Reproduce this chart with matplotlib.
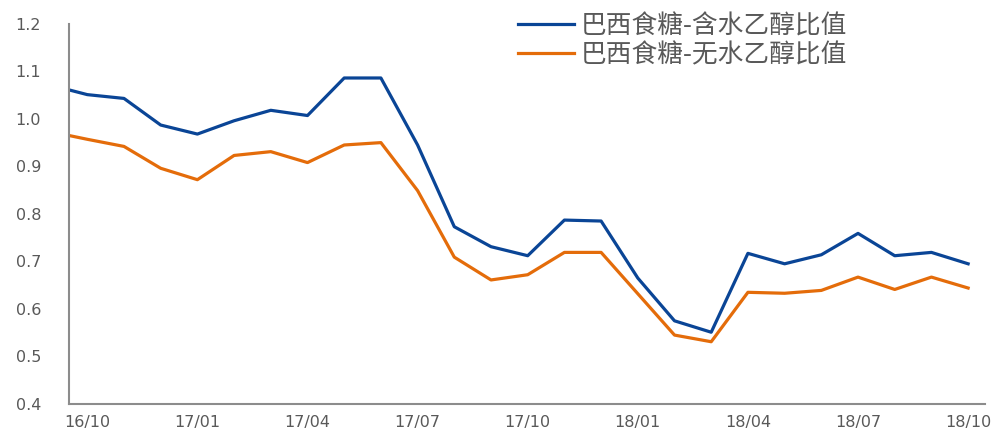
import numpy as np
import matplotlib
matplotlib.use('Agg')
import matplotlib.pyplot as plt

plt.rcParams['font.family'] = ['Noto Sans CJK SC', 'DejaVu Sans']

# month index, 0 = 16/10 (first point sits half a month earlier)
months = [-0.5, 0, 1, 2, 3, 4, 5, 6, 7, 8, 9, 10, 11, 12, 13, 14, 15, 16,
          17, 18, 19, 20, 21, 22, 23, 24]
hydrous = [1.061, 1.051, 1.043, 0.987, 0.968, 0.996, 1.018, 1.007, 1.086,
           1.086, 0.945, 0.773, 0.731, 0.712, 0.787, 0.785, 0.665, 0.575,
           0.551, 0.717, 0.695, 0.714, 0.759, 0.712, 0.719, 0.695]
anhydrous = [0.965, 0.957, 0.942, 0.896, 0.872, 0.923, 0.931, 0.908, 0.945,
             0.950, 0.849, 0.709, 0.661, 0.672, 0.719, 0.719, 0.632, 0.545,
             0.531, 0.635, 0.633, 0.639, 0.667, 0.641, 0.667, 0.644]
names = ['巴西食糖-含水乙醇比值', '巴西食糖-无水乙醇比值']
xtick_pos = [0, 3, 6, 9, 12, 15, 18, 21, 24]
xtick_lab = ['16/10', '17/01', '17/04', '17/07', '17/10', '18/01', '18/04', '18/07', '18/10']
yticks = [0.4, 0.5, 0.6, 0.7, 0.8, 0.9, 1.0, 1.1, 1.2]

fig = plt.figure(figsize=(9.99, 4.33), dpi=100)
ax = fig.add_axes([0.069, 0.067, 0.917, 0.878])

ax.plot(months, hydrous, color='#0A4596', lw=2.3, label=names[0])
ax.plot(months, anhydrous, color='#E46C0A', lw=2.3, label=names[1])

ax.set_xlim(-0.5, 24.46)
ax.set_ylim(0.4, 1.2)
ax.set_yticks(yticks)
ax.set_yticklabels(['%.1f' % v for v in yticks])
ax.set_xticks(xtick_pos)
ax.set_xticklabels(xtick_lab)
ax.tick_params(axis='y', length=0, pad=20, labelcolor='#595959')
ax.tick_params(axis='x', length=0, pad=8, labelcolor='#595959')
for lab in ax.get_xticklabels() + ax.get_yticklabels():
    lab.set_family('DejaVu Sans')
    lab.set_fontsize(11.5)

for s in ['top', 'right']:
    ax.spines[s].set_visible(False)
for s in ['left', 'bottom']:
    ax.spines[s].set_color('#8C8C8C')
    ax.spines[s].set_linewidth(1.5)

leg = fig.legend(loc='upper left', bbox_to_anchor=(508 / 999, 1 - 3 / 433),
                 frameon=False, fontsize=18.5, handlelength=2.15,
                 handletextpad=0.3, labelspacing=0.12, borderaxespad=0)
for t in leg.get_texts():
    t.set_color('#595959')

fig.savefig('out.png', dpi=100)
